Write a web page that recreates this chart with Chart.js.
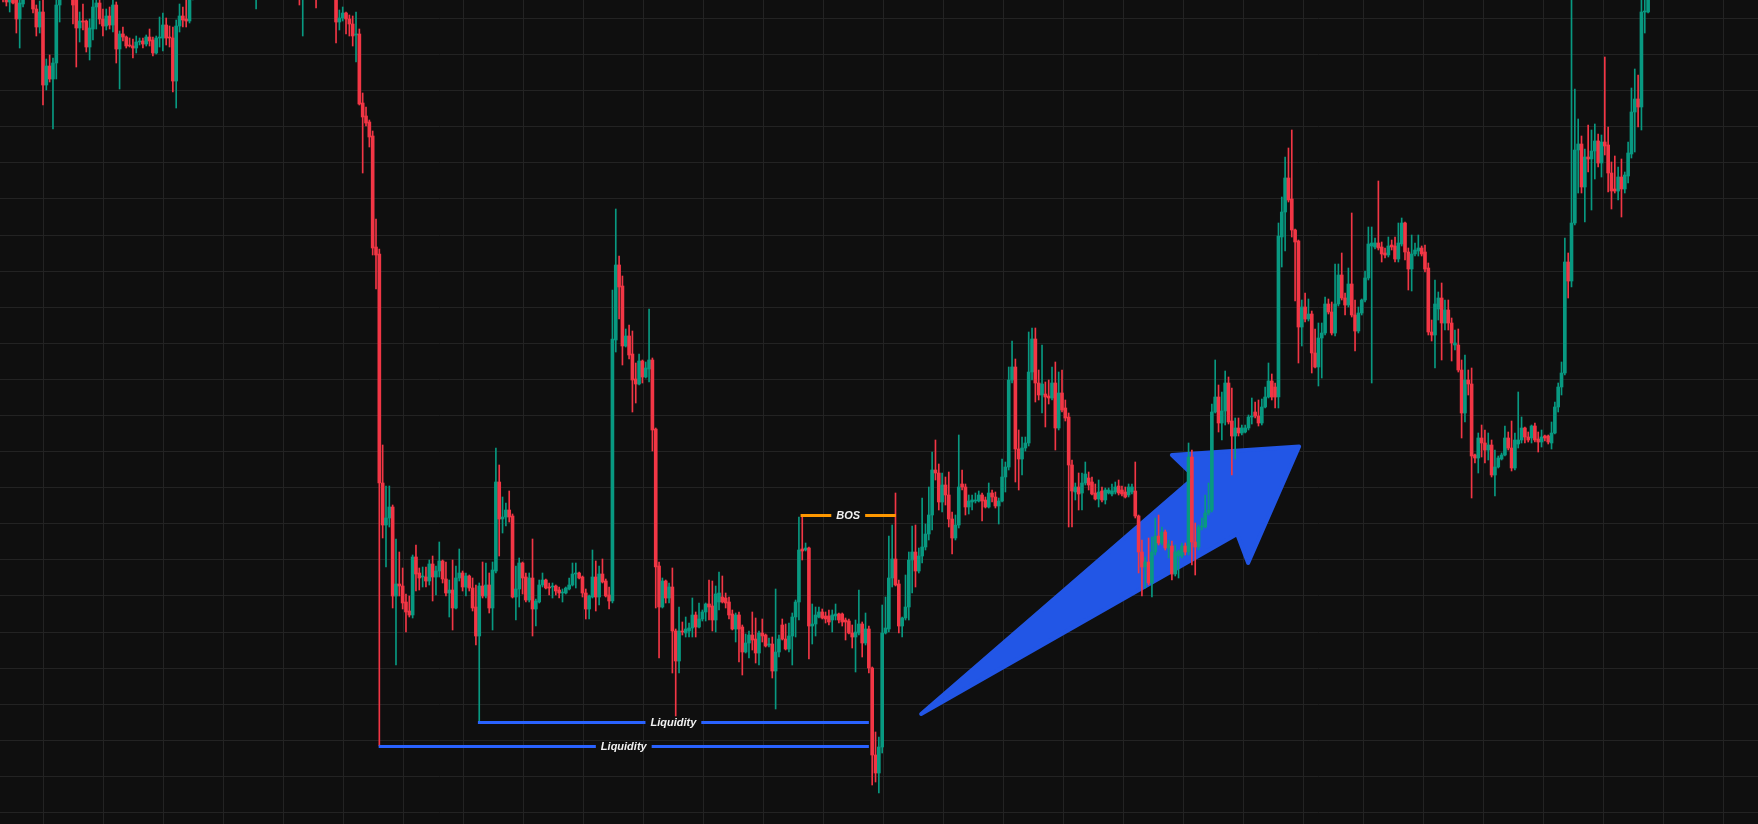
<!DOCTYPE html>
<html>
<head>
<meta charset="utf-8">
<script src="https://cdn.jsdelivr.net/npm/chart.js@4.4.1/dist/chart.umd.min.js"></script>
<style>
html,body{margin:0;padding:0;background:#0f0f0f;overflow:hidden}
#wrap{position:relative;width:1758px;height:824px}
</style>
</head>
<body>
<div id="wrap"><canvas id="c"></canvas></div>
<script>
// ---- candle data (one candle per index, price units) ----
const OPEN = [
832,844,829,822,826,826,805,820,829,838,
827,815,797,812,739,758,745,761,819,827,
838,844,834,824,796,803,803,777,795,817,
821,805,798,808,799,819,775,790,787,779,
778,776,782,783,780,787,784,771,786,786,
799,787,786,743,798,808,805,803,826,836,
830,846,854,844,859,872,864,854,868,860,
846,856,844,836,850,858,848,838,854,866,
880,870,884,874,862,872,860,850,858,846,
836,828,842,852,844,834,828,840,848,838,
832,836,802,806,811,805,800,789,790,721,
708,702,688,577,570,341,299,306,317,228,
240,238,222,213,209,267,251,247,247,243,
260,247,253,263,245,231,234,216,246,251,
237,248,236,217,188,238,228,239,216,253,
342,305,307,314,308,227,235,261,247,224,
246,215,222,239,244,237,237,238,234,231,
231,235,239,250,251,247,231,215,227,247,
227,250,243,229,223,484,559,538,478,488,
470,445,440,463,447,455,464,395,258,217,
243,226,237,193,163,193,191,193,196,209,
197,205,212,220,218,204,222,227,226,222,
210,195,209,197,172,181,189,185,171,191,
189,179,180,153,172,199,185,175,188,207,
222,275,274,276,198,200,207,212,208,208,
204,208,210,210,204,203,191,187,191,200,
181,195,156,69,51,77,191,195,246,265,
240,198,206,217,264,272,253,268,277,290,
309,354,351,322,339,329,305,286,299,340,
337,317,322,323,323,329,324,317,331,327,
318,323,347,357,444,457,375,365,376,381,
452,485,441,429,430,428,426,441,396,431,
416,407,359,332,337,331,341,346,342,331,
325,333,324,331,330,332,338,334,332,329,
332,333,308,272,257,262,241,272,288,281,
292,276,278,250,268,268,278,272,367,282,
277,297,297,311,314,412,427,401,413,441,
403,388,396,391,392,396,407,412,408,401,
417,427,443,437,427,587,612,646,625,594,
583,497,517,505,510,471,457,486,491,520,
512,491,520,549,526,519,540,509,493,511,
524,546,578,577,581,577,571,569,579,578,
565,580,601,572,555,570,573,576,572,556,
492,489,515,526,501,514,501,479,479,454,
411,444,440,369,366,386,381,374,379,349,
357,365,369,386,376,356,380,384,396,387,
386,398,385,382,388,388,381,391,417,437,
451,562,543,601,674,680,637,667,665,673,
683,661,682,679,651,635,633,647,635,648,
670,712,725,717,812,812
];
const HIGH = [
850,848,834,832,830,830,825,834,842,842,
832,819,823,824,765,769,766,824,832,844,
850,848,839,834,812,820,804,805,824,827,
824,815,815,817,826,822,793,797,788,786,
785,788,786,786,789,795,787,788,807,811,
806,798,797,804,820,817,826,832,842,844,
852,862,858,864,879,876,868,874,872,864,
860,862,848,854,864,862,852,860,872,886,
884,890,888,878,876,876,864,862,860,850,
840,846,856,856,848,838,844,854,852,842,
842,842,814,817,812,809,808,812,795,731,
717,704,693,605,575,379,338,338,319,285,
272,256,230,228,269,279,256,257,257,264,
268,258,282,264,262,244,264,258,275,253,
251,249,246,239,241,262,261,251,262,376,
359,327,321,333,310,258,266,262,251,251,
285,225,244,251,245,241,241,239,237,235,
237,246,261,261,252,248,235,229,274,263,
258,265,245,237,534,615,568,548,495,499,
493,461,470,464,462,515,466,396,262,246,
244,241,256,195,217,202,207,201,226,212,
221,214,221,244,243,238,252,248,231,227,
214,211,212,199,190,193,212,206,193,205,
190,186,187,235,189,205,200,201,211,224,
307,308,281,277,220,217,217,215,212,214,
214,220,211,211,206,205,199,204,234,202,
211,198,157,92,87,219,227,288,299,331,
244,207,249,272,298,299,276,326,300,337,
372,384,360,351,347,352,312,309,389,354,
340,329,329,331,333,331,327,341,334,332,
326,365,362,457,483,465,394,387,387,492,
496,496,454,479,442,444,457,462,452,454,
424,411,364,341,351,351,362,352,347,340,
344,337,336,336,340,342,344,338,337,340,
340,362,309,284,267,286,287,306,309,297,
294,284,283,279,274,281,281,381,374,301,
299,306,329,341,420,464,439,432,453,447,
436,406,406,399,399,409,426,422,424,425,
437,461,450,441,601,627,667,676,694,595,
584,524,531,525,513,495,501,501,527,525,
522,560,560,571,531,556,611,524,517,525,
553,597,597,586,643,582,576,587,584,587,
601,606,602,576,589,581,589,578,579,561,
504,544,532,541,524,524,506,494,495,464,
469,454,456,370,391,399,394,391,384,374,
368,371,398,392,403,391,432,407,397,392,
399,401,392,394,389,389,402,422,441,462,
586,571,834,735,705,688,675,699,694,700,
690,689,767,697,662,668,657,665,652,682,
736,755,749,829,829,839
];
const LOW = [
827,822,818,812,820,791,776,817,826,825,
811,788,791,719,734,742,695,745,802,825,
834,828,800,757,782,794,772,764,784,795,
800,788,794,795,792,761,735,783,776,777,
766,771,779,776,778,778,768,770,777,773,
779,777,732,716,792,797,797,801,824,826,
828,842,838,840,854,858,848,850,854,840,
842,838,830,832,846,842,832,815,850,862,
864,866,868,856,858,854,844,846,840,830,
819,788,838,838,828,816,826,836,832,827,
827,781,794,803,790,788,778,762,719,651,
698,677,569,535,78,286,257,297,216,159,
228,215,192,207,206,233,234,237,237,239,
223,229,247,241,228,207,194,215,243,233,
228,233,213,179,102,226,226,211,194,251,
268,291,298,302,226,204,217,230,222,222,
188,198,221,237,235,229,226,229,226,222,
230,234,238,236,245,227,205,205,226,213,
219,241,227,215,221,472,505,459,477,465,
412,421,439,441,446,442,373,216,166,216,
221,221,151,108,151,189,187,187,187,187,
196,203,203,204,193,192,214,221,216,205,
194,182,162,149,171,166,174,161,159,182,
177,177,146,115,167,184,174,172,159,187,
204,264,273,165,180,188,206,205,201,199,
192,204,201,198,184,190,176,152,189,167,
179,151,39,42,31,71,190,192,237,238,
191,187,204,204,231,237,251,261,274,284,
294,344,314,312,319,297,270,284,296,334,
309,310,314,321,322,303,316,316,322,316,
300,322,332,354,441,342,334,349,373,378,
444,422,424,411,397,420,424,374,394,412,
403,297,297,324,314,314,339,334,329,324,
317,322,320,330,328,330,329,328,326,327,
330,306,251,228,236,239,227,269,279,279,
274,266,244,248,246,266,269,269,259,249,
274,294,296,309,312,411,392,384,399,400,
349,365,388,389,391,394,400,406,398,399,
416,426,424,416,416,557,573,622,587,523,
461,478,502,503,451,456,438,446,489,510,
489,488,518,524,509,517,507,473,491,509,
522,544,441,575,574,562,566,567,574,562,
562,578,564,534,533,568,568,568,552,489,
483,456,504,464,494,494,463,474,452,386,
402,429,326,361,351,367,361,364,347,328,
356,364,368,374,353,354,376,381,381,382,
381,382,372,377,383,380,375,390,412,429,
449,526,537,599,631,631,602,652,614,645,
657,647,669,632,615,631,624,607,631,641,
666,672,697,694,791,811
];
const CLOSE = [
844,829,822,827,821,805,821,829,838,827,
815,797,812,739,758,745,761,819,827,838,
844,834,819,796,803,802,777,796,817,821,
805,798,808,799,819,775,790,787,778,778,
776,782,783,780,787,783,771,786,787,799,
786,786,743,798,808,804,803,826,836,830,
846,854,844,859,872,864,854,868,860,846,
856,844,836,850,858,848,838,854,866,880,
870,884,874,862,872,860,850,858,846,836,
828,842,852,844,834,828,840,848,838,832,
836,802,806,811,805,800,788,790,720,707,
701,687,576,569,341,299,306,317,228,240,
238,221,212,209,267,250,246,248,243,260,
247,253,263,245,231,234,216,246,251,237,
248,236,216,188,238,228,239,216,254,342,
305,307,314,307,227,235,261,246,224,246,
215,223,239,244,236,236,238,233,231,232,
236,239,250,251,246,231,215,228,247,227,
250,242,228,223,485,559,537,478,488,469,
444,440,463,447,456,464,394,257,217,243,
226,237,193,163,193,192,195,196,209,197,
205,212,220,217,204,230,231,222,221,209,
195,209,195,172,181,189,184,171,191,188,
178,180,153,172,185,185,175,188,207,222,
274,273,276,198,200,209,212,206,205,202,
209,210,204,202,202,191,187,192,200,181,
195,156,69,51,77,191,196,246,265,239,
198,206,217,264,272,253,268,277,290,309,
354,351,322,339,329,305,286,299,337,337,
317,323,324,324,329,323,317,331,327,318,
323,347,357,444,457,375,365,376,381,452,
485,441,429,440,427,426,441,396,431,414,
406,359,333,337,330,341,350,339,330,325,
332,324,334,334,333,337,331,330,327,337,
337,308,272,257,262,241,272,288,281,292,
276,280,250,272,273,278,272,367,282,277,
297,298,311,314,412,427,401,413,441,402,
388,396,391,396,396,407,408,408,401,417,
427,443,427,427,588,612,646,624,594,582,
497,517,505,510,471,457,486,491,520,512,
491,520,549,526,519,540,509,493,511,524,
546,580,581,581,576,570,569,578,577,565,
581,601,572,555,570,574,576,570,555,492,
489,520,526,501,514,501,481,481,454,411,
444,440,368,366,386,381,374,379,349,357,
366,369,386,376,356,384,384,396,387,384,
398,384,382,387,386,382,391,417,437,451,
562,543,601,674,680,637,667,665,673,683,
661,682,678,651,633,633,647,635,649,671,
712,725,717,812,813,829
];

// ---- layout of the visible window (candle index range, price range) ----
const X_MIN = 0.09, X_MAX = 528.0;
const Y_MIN = 0, Y_MAX = 824;
// grid lines (candle index / price)
const X_GRID = Array.from({length: 29}, (_, k) => 13.09 + 18.018 * k);
const Y_GRID = Array.from({length: 23}, (_, k) => 11.5 + 36.09 * k);

// ---- annotations (candle index / price) ----
const LEVELS = [
  {from: 143.6, to: 261.0, price: 102,   text: 'Liquidity', color: '#2962FF'},
  {from: 113.8, to: 261.0, price: 78,    text: 'Liquidity', color: '#2962FF'},
  {from: 240.5, to: 269.1, price: 308.7, text: 'BOS',       color: '#FF9800'}
];
const ARROW = [[276.7,110],[358.9,347],[352.0,369],[390.2,377.5],[374.9,261],[371.6,290]];

const UP = '#089981', DOWN = '#F23645';
const GRID = '#232323';

const idx = OPEN.map((_, i) => i);
const colors = idx.map(i => CLOSE[i] >= OPEN[i] ? UP : DOWN);
const bodies = idx.map(i => ({x: i, y: [OPEN[i], CLOSE[i]]}));
const wicks = idx.map(i => ({x: i, y: [LOW[i], HIGH[i]]}));

const arrowPlugin = {
  id: 'arrow',
  beforeDatasetsDraw(chart) {
    const {ctx, scales: {x, y}, chartArea} = chart;
    ctx.save();
    ctx.beginPath();
    ctx.rect(chartArea.left, chartArea.top, chartArea.width, chartArea.height);
    ctx.clip();
    ctx.beginPath();
    ARROW.forEach((p, k) => {
      const px = x.getPixelForValue(p[0]), py = y.getPixelForValue(p[1]);
      if (k === 0) ctx.moveTo(px, py); else ctx.lineTo(px, py);
    });
    ctx.closePath();
    ctx.fillStyle = '#2256E6';
    ctx.strokeStyle = '#2256E6';
    ctx.lineJoin = 'round';
    ctx.lineWidth = 4;
    ctx.fill();
    ctx.stroke();
    ctx.restore();
  }
};

const levelPlugin = {
  id: 'levels',
  afterDatasetsDraw(chart) {
    const {ctx, scales: {x, y}} = chart;
    ctx.save();
    ctx.font = 'italic bold 11px "Liberation Sans", Arial, sans-serif';
    ctx.textAlign = 'center';
    ctx.textBaseline = 'middle';
    LEVELS.forEach(l => {
      const x1 = x.getPixelForValue(l.from), x2 = x.getPixelForValue(l.to);
      const py = Math.round(y.getPixelForValue(l.price));
      const mid = (x1 + x2) / 2;
      const half = ctx.measureText(l.text).width / 2 + 5;
      ctx.strokeStyle = l.color;
      ctx.lineWidth = 3;
      ctx.lineCap = 'butt';
      ctx.beginPath();
      ctx.moveTo(x1, py + 0.5); ctx.lineTo(mid - half, py + 0.5);
      ctx.moveTo(mid + half, py + 0.5); ctx.lineTo(x2, py + 0.5);
      ctx.stroke();
      ctx.fillStyle = '#f2f2f2';
      ctx.fillText(l.text, mid, py + 1);
    });
    ctx.restore();
  }
};

const hiddenAxis = (min, max, grid) => ({
  type: 'linear', min, max, offset: false,
  grid: {color: GRID, lineWidth: 1, drawTicks: false, offset: false},
  border: {display: false},
  ticks: {display: false},
  afterBuildTicks: ax => { ax.ticks = grid.map(v => ({value: v})); }
});

new Chart(document.getElementById('c'), {
  type: 'bar',
  data: {
    datasets: [
      {label: 'body', data: bodies, backgroundColor: colors, barThickness: 3,
       minBarLength: 1, grouped: false, order: 0, borderWidth: 0},
      {label: 'wick', data: wicks, backgroundColor: colors, barThickness: 1,
       grouped: false, order: 1, borderWidth: 0}
    ]
  },
  options: {
    responsive: true,
    maintainAspectRatio: false,
    devicePixelRatio: 1,
    animation: false,
    events: [],
    layout: {padding: 0},
    plugins: {legend: {display: false}, tooltip: {enabled: false}},
    scales: {
      x: hiddenAxis(X_MIN, X_MAX, X_GRID),
      y: hiddenAxis(Y_MIN, Y_MAX, Y_GRID)
    }
  },
  plugins: [arrowPlugin, levelPlugin]
});
</script>
</body>
</html>
